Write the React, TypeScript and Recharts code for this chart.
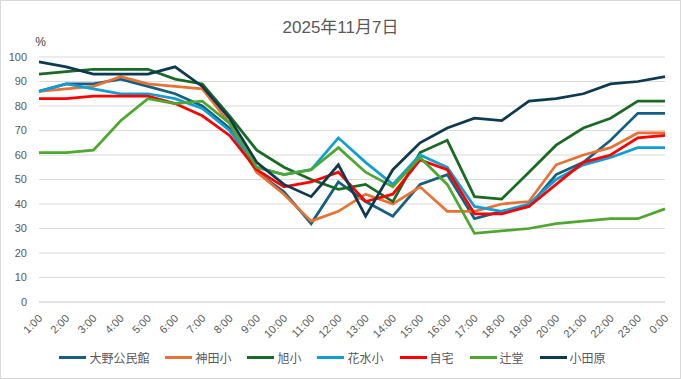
import { LineChart, Line, XAxis, YAxis, CartesianGrid, Legend } from 'recharts'

const hours = [
  '1:00', '2:00', '3:00', '4:00', '5:00', '6:00', '7:00', '8:00', '9:00', '10:00', '11:00', '12:00',
  '13:00', '14:00', '15:00', '16:00', '17:00', '18:00', '19:00', '20:00', '21:00', '22:00', '23:00', '0:00',
]

const ono = [86, 89, 89, 91, 88, 85, 80, 71, 53, 45, 32, 49, 41, 35, 48, 52, 34, 37, 39, 52, 57, 66, 77, 77]
const kanda = [86, 87, 88, 92, 89, 88, 87, 73, 53, 44, 33, 37, 44, 40, 47, 37, 37, 40, 41, 56, 60, 63, 69, 69]
const asahi = [93, 94, 95, 95, 95, 91, 89, 76, 62, 55, 50, 46, 48, 41, 61, 66, 43, 42, 53, 64, 71, 75, 82, 82]
const hanamizu = [86, 89, 87, 85, 85, 83, 79, 70, 55, 52, 54, 67, 57, 48, 60, 55, 39, 37, 40, 50, 56, 59, 63, 63]
const jitaku = [83, 83, 84, 84, 84, 81, 76, 68, 54, 47, 49, 53, 41, 44, 58, 54, 36, 36, 39, 48, 57, 60, 67, 68]
const tsujido = [61, 61, 62, 74, 83, 81, 82, 73, 55, 52, 54, 63, 53, 47, 59, 48, 28, 29, 30, 32, 33, 34, 34, 38]
const odawara = [98, 96, 93, 93, 93, 96, 88, 75, 57, 48, 43, 56, 35, 54, 65, 71, 75, 74, 82, 83, 85, 89, 90, 92]

const yTicks = [0, 10, 20, 30, 40, 50, 60, 70, 80, 90, 100]

const series = [
  { key: 'ono', name: '大野公民館', color: '#156082', values: ono },
  { key: 'kanda', name: '神田小', color: '#E97132', values: kanda },
  { key: 'asahi', name: '旭小', color: '#196B24', values: asahi },
  { key: 'hanamizu', name: '花水小', color: '#0F9ED5', values: hanamizu },
  { key: 'jitaku', name: '自宅', color: '#FF0000', values: jitaku },
  { key: 'tsujido', name: '辻堂', color: '#4EA72E', values: tsujido },
  { key: 'odawara', name: '小田原', color: '#0E3A50', values: odawara },
]

const data = hours.map((h, i) => {
  const row: Record<string, string | number> = { hour: h }
  series.forEach((s) => {
    row[s.key] = s.values[i]
  })
  return row
})

const FONT = '"Liberation Sans", "Noto Sans CJK JP", sans-serif'
const TEXT = '#595959'

function HourTick(props: any) {
  const { x, y, payload } = props
  const tx = x + 4
  const ty = y + 9
  return (
    <text
      x={tx}
      y={ty}
      textAnchor="end"
      fill={TEXT}
      fontSize={11}
      fontFamily={FONT}
      transform={`rotate(-45, ${tx}, ${ty})`}
    >
      {payload.value}
    </text>
  )
}

function LegendBox() {
  return (
    <div style={{ display: 'flex', justifyContent: 'center', gap: 16, fontFamily: FONT, fontSize: 12, color: TEXT }}>
      {series.map((s) => (
        <div key={s.key} style={{ display: 'flex', alignItems: 'center' }}>
          <span style={{ display: 'inline-block', width: 27, height: 3.5, background: s.color, marginRight: 3 }} />
          <span>{s.name}</span>
        </div>
      ))}
    </div>
  )
}

export default function App() {
  return (
    <div style={{ position: 'fixed', left: 0, top: 0, width: 681, height: 379, background: '#fff' }}>
      <div
        style={{
          position: 'absolute',
          top: 13,
          left: 0,
          width: 681,
          textAlign: 'center',
          fontFamily: FONT,
          fontSize: 17,
          color: TEXT,
        }}
      >
        2025年11月7日
      </div>
      <LineChart width={681} height={379} data={data} margin={{ top: 57, right: 16, left: 0, bottom: 6 }}>
        <CartesianGrid stroke="#d9d9d9" vertical={false} />
        <XAxis
          dataKey="hour"
          interval={0}
          height={47}
          tick={<HourTick />}
          tickLine={false}
          axisLine={{ stroke: '#d9d9d9' }}
        />
        <YAxis
          domain={[0, 100]}
          ticks={yTicks}
          width={39}
          tickLine={false}
          axisLine={false}
          tickSize={4}
          tickMargin={8}
          tick={{ fill: TEXT, fontSize: 11, fontFamily: FONT }}
          label={{ value: '%', position: 'top', dx: 21, offset: 11, fill: '#404040', fontSize: 12, fontFamily: FONT }}
        />
        <Legend verticalAlign="bottom" height={24} content={() => <LegendBox />} />
        {series.map((s) => (
          <Line
            key={s.key}
            type="linear"
            dataKey={s.key}
            name={s.name}
            stroke={s.color}
            strokeWidth={2.75}
            dot={false}
            isAnimationActive={false}
          />
        ))}
      </LineChart>
      <div
        style={{
          position: 'absolute',
          inset: 0,
          boxShadow: 'inset 0 0 0 1px #d9d9d9',
          pointerEvents: 'none',
        }}
      />
    </div>
  )
}
